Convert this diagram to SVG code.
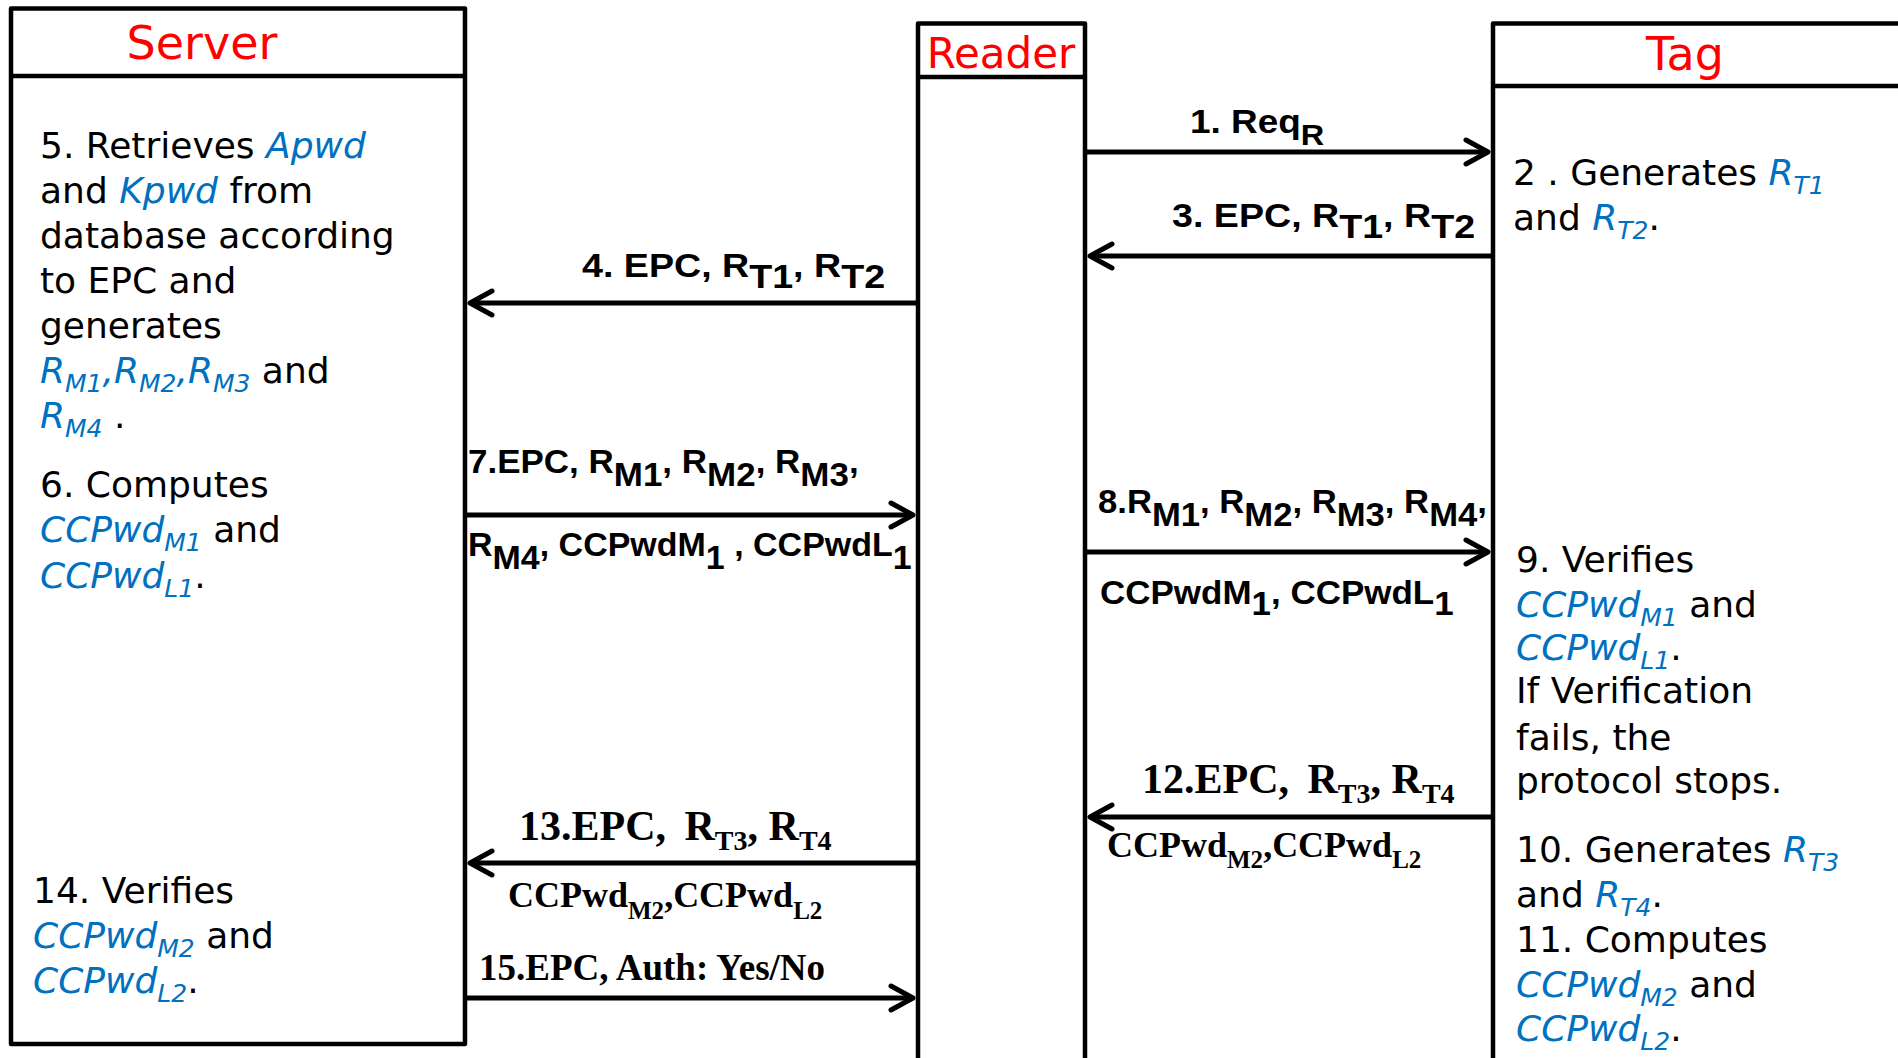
<svg xmlns="http://www.w3.org/2000/svg" width="1898" height="1058" viewBox="0 0 1898 1058">
<defs>
<style>
.box{fill:none;stroke:#000;stroke-width:4.5;stroke-linejoin:round}
.title{font-family:"DejaVu Sans","Noto Sans",sans-serif;fill:#FF0000}
.body{font-family:"DejaVu Sans","Noto Sans",sans-serif;font-size:36px;fill:#000}
.b{fill:#0070C0;font-style:italic}
.s{font-size:25px}
.lab{font-family:"Liberation Sans",Arial,sans-serif;font-weight:bold;font-size:33px;fill:#000}
.tlab{font-family:"Liberation Serif","Times New Roman",serif;font-weight:bold;fill:#000}
.arr{fill:none;stroke:#000;stroke-width:5;marker-end:url(#ah)}
</style>
<marker id="ah" markerUnits="userSpaceOnUse" markerWidth="32" markerHeight="32" viewBox="-28 -16 32 32" refX="0" refY="0" orient="auto">
<path d="M-22,-12 L0,0 L-22,12" fill="none" stroke="#000" stroke-width="5" stroke-linecap="round" stroke-linejoin="round"/>
</marker>
</defs>
<rect width="1898" height="1058" fill="#fff"/>

<g id="server">
<rect class="box" x="11" y="8.5" width="454" height="1035.5"/>
<line class="box" x1="11" y1="76" x2="465" y2="76"/>
<text class="title" x="202" y="59" font-size="46" text-anchor="middle">Server</text>
<text class="body" x="40" y="158">5. Retrieves <tspan class="b">Apwd</tspan></text>
<text class="body" x="40" y="203">and <tspan class="b">Kpwd</tspan> from</text>
<text class="body" x="40" y="248">database according</text>
<text class="body" x="40" y="293">to EPC and</text>
<text class="body" x="40" y="338">generates</text>
<text class="body" x="40" y="383"><tspan class="b">R<tspan class="s" dy="9">M1</tspan><tspan dy="-9">,R</tspan><tspan class="s" dy="9">M2</tspan><tspan dy="-9">,R</tspan><tspan class="s" dy="9">M3</tspan></tspan><tspan dy="-9"> and</tspan></text>
<text class="body" x="40" y="428"><tspan class="b">R<tspan class="s" dy="9">M4</tspan></tspan><tspan dy="-9"> .</tspan></text>
<text class="body" x="40" y="497">6. Computes</text>
<text class="body" x="40" y="542"><tspan class="b">CCPwd<tspan class="s" dy="9">M1</tspan></tspan><tspan dy="-9"> and</tspan></text>
<text class="body" x="40" y="588"><tspan class="b">CCPwd<tspan class="s" dy="9">L1</tspan></tspan><tspan dy="-9">.</tspan></text>
<text class="body" x="33" y="903">14. Verifies</text>
<text class="body" x="33" y="948"><tspan class="b">CCPwd<tspan class="s" dy="9">M2</tspan></tspan><tspan dy="-9"> and</tspan></text>
<text class="body" x="33" y="993"><tspan class="b">CCPwd<tspan class="s" dy="9">L2</tspan></tspan><tspan dy="-9">.</tspan></text>
</g>

<g id="reader">
<rect class="box" x="918" y="23.5" width="167" height="1045"/>
<line class="box" x1="918" y1="77" x2="1085" y2="77"/>
<text class="title" x="1001" y="68" font-size="42" text-anchor="middle">Reader</text>
</g>

<g id="tag">
<rect class="box" x="1493" y="23.5" width="420" height="1045"/>
<line class="box" x1="1493" y1="86" x2="1910" y2="86"/>
<text class="title" x="1685" y="70" font-size="46" text-anchor="middle">Tag</text>
<text class="body" x="1513" y="185">2 . Generates <tspan class="b">R<tspan class="s" dy="9">T1</tspan></tspan></text>
<text class="body" x="1513" y="230">and <tspan class="b">R<tspan class="s" dy="9">T2</tspan></tspan><tspan dy="-9">.</tspan></text>
<text class="body" x="1516" y="572">9. Verifies</text>
<text class="body" x="1516" y="617"><tspan class="b">CCPwd<tspan class="s" dy="9">M1</tspan></tspan><tspan dy="-9"> and</tspan></text>
<text class="body" x="1516" y="660"><tspan class="b">CCPwd<tspan class="s" dy="9">L1</tspan></tspan><tspan dy="-9">.</tspan></text>
<text class="body" x="1516" y="703">If Verification</text>
<text class="body" x="1516" y="750">fails, the</text>
<text class="body" x="1516" y="793">protocol stops.</text>
<text class="body" x="1516" y="862">10. Generates <tspan class="b">R<tspan class="s" dy="9">T3</tspan></tspan></text>
<text class="body" x="1516" y="907">and <tspan class="b">R<tspan class="s" dy="9">T4</tspan></tspan><tspan dy="-9">.</tspan></text>
<text class="body" x="1516" y="952">11. Computes</text>
<text class="body" x="1516" y="997"><tspan class="b">CCPwd<tspan class="s" dy="9">M2</tspan></tspan><tspan dy="-9"> and</tspan></text>
<text class="body" x="1516" y="1041"><tspan class="b">CCPwd<tspan class="s" dy="9">L2</tspan></tspan><tspan dy="-9">.</tspan></text>
</g>

<g id="connectors">
<line class="arr" x1="1087" y1="152" x2="1488" y2="152"/>
<line class="arr" x1="1491" y1="256" x2="1090" y2="256"/>
<line class="arr" x1="916" y1="303" x2="470" y2="303"/>
<line class="arr" x1="467" y1="515" x2="913" y2="515"/>
<line class="arr" x1="1087" y1="552" x2="1488" y2="552"/>
<line class="arr" x1="1491" y1="817" x2="1090" y2="817"/>
<line class="arr" x1="916" y1="863" x2="470" y2="863"/>
<line class="arr" x1="467" y1="998" x2="913" y2="998"/>

<text class="lab" transform="translate(1190,133) scale(1.12,1)">1. Req<tspan dy="12" font-size="29">R</tspan></text>
<text class="lab" transform="translate(1172,227) scale(1.14,1)">3. EPC, R<tspan dy="11">T1</tspan><tspan dy="-11">, R</tspan><tspan dy="11">T2</tspan></text>
<text class="lab" transform="translate(582,277) scale(1.14,1)">4. EPC, R<tspan dy="11">T1</tspan><tspan dy="-11">, R</tspan><tspan dy="11">T2</tspan></text>
<text class="lab" transform="translate(468,473) scale(1.06,1)">7.EPC, R<tspan dy="13">M1</tspan><tspan dy="-13">, R</tspan><tspan dy="13">M2</tspan><tspan dy="-13">, R</tspan><tspan dy="13">M3</tspan><tspan dy="-13">,</tspan></text>
<text class="lab" transform="translate(468,556) scale(1.03,1)">R<tspan dy="13">M4</tspan><tspan dy="-13">, CCPwdM</tspan><tspan dy="13">1</tspan><tspan dy="-13"> , CCPwdL</tspan><tspan dy="13">1</tspan></text>
<text class="lab" transform="translate(1098,513) scale(1.05,1)">8.R<tspan dy="13">M1</tspan><tspan dy="-13">, R</tspan><tspan dy="13">M2</tspan><tspan dy="-13">, R</tspan><tspan dy="13">M3</tspan><tspan dy="-13">, R</tspan><tspan dy="13">M4</tspan><tspan dy="-13">,</tspan></text>
<text class="lab" transform="translate(1100,604) scale(1.06,1)">CCPwdM<tspan dy="11">1</tspan><tspan dy="-11">, CCPwdL</tspan><tspan dy="11">1</tspan></text>

<text class="tlab" x="1142" y="793" font-size="42">12.EPC, <tspan dx="8">R</tspan><tspan dy="10" font-size="28">T3</tspan><tspan dy="-10">, R</tspan><tspan dy="10" font-size="28">T4</tspan></text>
<text class="tlab" x="1107" y="857" font-size="36">CCPwd<tspan dy="11" font-size="25">M2</tspan><tspan dy="-11">,CCPwd</tspan><tspan dy="11" font-size="25">L2</tspan></text>
<text class="tlab" x="519" y="840" font-size="42">13.EPC, <tspan dx="8">R</tspan><tspan dy="10" font-size="28">T3</tspan><tspan dy="-10">, R</tspan><tspan dy="10" font-size="28">T4</tspan></text>
<text class="tlab" x="508" y="907" font-size="36">CCPwd<tspan dy="12" font-size="25">M2</tspan><tspan dy="-12">,CCPwd</tspan><tspan dy="12" font-size="25">L2</tspan></text>
<text class="tlab" x="479" y="980" font-size="37">15.EPC, Auth: Yes/No</text>
</g>
</svg>
